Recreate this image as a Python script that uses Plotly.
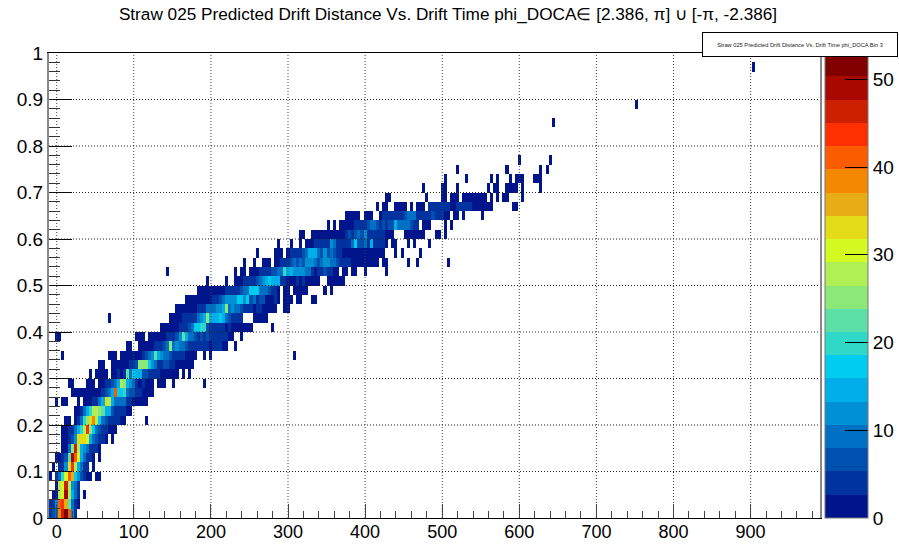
import plotly.graph_objects as go

# Axis binning of the histogram
x_low, x_bin, x_nbins = -10, 4, 250
y_low, y_bin, y_nbins = 0, 0.02, 50
z_max = 53

x_ticks = [0, 100, 200, 300, 400, 500, 600, 700, 800, 900]
x_labels = ["0", "100", "200", "300", "400", "500", "600", "700", "800", "900"]
y_ticks = [0, 0.1, 0.2, 0.3, 0.4, 0.5, 0.6, 0.7, 0.8, 0.9, 1]
y_labels = ["0", "0.1", "0.2", "0.3", "0.4", "0.5", "0.6", "0.7", "0.8", "0.9", "1"]
z_ticks = [0, 10, 20, 30, 40, 50]

palette = ["#00148c", "#0033a0", "#0050b0", "#0070c4", "#0090d4", "#00aeea", "#00ccf0",
           "#30d8c8", "#5ce0a8", "#8ce878", "#b0f055", "#d4fa22", "#e4dc18", "#e8ac14",
           "#f48800", "#fc5c00", "#ff3000", "#cc2000", "#a80800", "#800000"]

title_text = "Straw 025 Predicted Drift Distance Vs. Drift Time phi_DOCA\u2208 [2.386, \u03c0] \u222a [-\u03c0, -2.386]"
box_text = "Straw 025 Predicted Drift Distance Vs. Drift Time phi_DOCA Bin 3"

# Counts per y row: (first x bin, [counts in consecutive x bins])
r00 = [(0, [4, 7, 9, 38, 46, 52, 40, 12, 3])]
r01 = [(0, [3, 5, 12, 40, 45, 36, 22, 10, 5, 2])]
r02 = [(1, [2, 2, 28, 31, 50, 28, 14, 8, 3]), (11, [1])]
r03 = [(2, [2, 27, 30, 47, 27, 12, 8, 3])]
r04 = [(0, [1]), (2, [3, 10, 20, 30, 42, 35, 18, 12, 6, 3, 2, 1]), (15, [1, 1])]
r05 = [(1, [1]), (3, [3, 4, 13, 32, 44, 28, 15, 8, 3, 3]), (14, [1])]
r06 = [(2, [1, 2, 3, 6, 22, 50, 40, 30, 15, 9, 4, 3, 2]), (16, [1])]
r07 = [(4, [1, 2, 8, 25, 47, 28, 15, 12, 8, 5, 3, 3, 1])]
r08 = [(4, [1, 1, 3, 6, 12, 32, 34, 33, 30, 14, 8, 7, 5, 3, 1]), (20, [1])]
r09 = [(4, [1, 2, 3, 5, 10, 14, 20, 28, 44, 25, 16, 8, 6, 3, 4, 2, 1, 1])]
r10 = [(5, [2, 2]), (8, [1, 3, 8, 20, 25, 32, 38, 28, 16, 8, 6, 4, 4, 4, 3, 2, 2]), (31, [1])]
r11 = [(8, [1, 1, 3, 8, 14, 20, 28, 28, 26, 23, 14, 15, 7, 4, 5, 4, 3, 2, 1])]
r12 = [(2, [1]), (4, [1, 1]), (9, [1]), (11, [1, 2, 2, 3, 4, 8, 14, 32, 28, 15, 9, 9, 9, 9, 3, 3, 2, 2, 1, 1, 1])]
r13 = [(7, [1, 1, 1, 1, 1, 1, 1, 2, 2, 2, 3, 6, 10, 15, 40, 18, 16, 20, 10, 6, 6, 4, 3, 2, 2, 1, 1])]
r14 = [(6, [1, 1]), (12, [1, 1, 1]), (16, [1, 1, 3, 4, 6, 10, 14, 28, 25, 14, 12, 8, 4, 2, 3, 2, 2, 2]),
       (35, [1, 1, 1]), (40, [1]), (50, [1])]
r15 = [(13, [1]), (15, [1, 1, 1, 1]),
       (20, [2, 1, 3, 2, 5, 22, 10, 18, 14, 14, 6, 6, 5, 4, 3, 3, 2, 2, 2, 1, 1, 1]), (43, [1]), (45, [1])]
r16 = [(16, [1, 1]), (20, [1, 1, 1, 1, 2, 2, 3, 5, 6, 24, 24, 25, 16, 12, 10, 5, 5, 6, 6, 4, 3, 2, 2, 1, 1, 1, 1])]
r17 = [(4, [1]), (19, [1, 1, 1]),
       (23, [1, 1, 1, 2, 2, 2, 2, 4, 6, 10, 13, 22, 14, 12, 10, 9, 7, 4, 3, 3, 3, 2, 2, 1, 1]),
       (50, [1]), (52, [1]), (79, [1])]
r18 = [(25, [1, 1]),
       (29, [1, 2, 1, 2, 2, 3, 4, 5, 6, 8, 24, 10, 11, 9, 9, 7, 5, 5, 4, 5, 4, 5, 3, 2, 3, 3, 3, 2, 1]), (60, [1])]
r19 = [(2, [1, 1]), (28, [1, 1, 1]),
       (32, [1, 1, 1, 2, 2, 2, 3, 3, 4, 7, 12, 22, 14, 8, 10, 7, 5, 6, 5, 6, 5, 4, 3, 3, 3, 3, 2, 1]), (62, [1])]
r20 = [(36, [1, 1, 1, 2, 2, 2, 3, 3, 4, 6, 8, 16, 16, 19, 20, 7, 5, 5, 4, 3, 3, 2, 3, 2, 2, 2, 2, 2, 2, 1]), (72, [1])]
r21 = [(19, [1]), (39, [1, 1, 1, 2, 3, 3, 4, 5, 5, 8, 12, 14, 26, 15, 15, 15, 17, 15, 8, 6, 5, 4, 4, 3]),
       (66, [1, 1, 1, 1, 1])]
r22 = [(41, [1, 1, 1, 1, 2, 2, 2, 3, 3, 4, 8, 10, 10, 12, 12, 14, 25, 9, 13, 9, 9, 7, 5, 3, 3, 2, 3, 3, 2, 2, 1, 1, 1]),
       (76, [1, 1])]
r23 = [(44, [1, 1, 1, 1, 1, 1, 1, 1, 2, 4, 5, 7, 9, 11, 11, 11, 12, 16, 18, 11, 18, 6, 9, 5, 7, 7, 2, 2, 1, 3, 1]),
       (76, [1, 1, 1]), (80, [1, 1]), (85, [1, 1])]
r24 = [(48, [1, 1, 1, 1, 2, 2, 2, 2, 2, 3, 3, 4, 4, 5, 6, 8, 8, 16, 17, 17, 8, 8, 10, 6, 4, 3, 1]),
       (76, [1, 2]), (79, [1, 1, 1, 1, 1]), (89, [1]), (91, [1])]
r25 = [(51, [1]), (57, [1]),
       (60, [1, 2, 2, 3, 4, 5, 5, 7, 9, 12, 14, 17, 15, 15, 14, 3, 4, 2, 2, 2, 3, 2, 3, 2, 2, 2, 1, 1]),
       (90, [1, 1, 1, 1, 1, 1])]
r26 = [(38, [1]), (60, [1]), (62, [1, 1]),
       (65, [1, 2, 2, 3, 3, 4, 4, 6, 7, 8, 8, 20, 14, 14, 13, 13, 12, 12, 9, 8, 3, 2, 5, 5, 7, 4, 3, 2, 1]),
       (95, [1, 1]), (98, [1, 1]), (102, [1]), (109, [1])]
r27 = [(63, [1]), (66, [1]), (69, [1, 1, 1]),
       (73, [1, 2, 3, 4, 5, 7, 8, 7, 9, 7, 12, 12, 13, 8, 6, 10, 12, 13, 9, 8, 6, 4, 3, 3, 3, 1, 1, 1, 2, 1, 1, 1, 1, 1]),
       (108, [1, 1]), (116, [1]), (119, [1]), (129, [1])]
r28 = [(67, [1]), (73, [1, 1, 1]),
       (77, [1, 3, 4, 5, 5, 7, 9, 14, 15, 15, 10, 7, 12, 7, 9, 6, 5, 4, 2, 2, 2, 2, 2, 2, 2, 2, 2, 2, 2, 2, 2, 1]),
       (112, [1]), (114, [1]), (120, [1])]
r29 = [(74, [1]), (78, [1]), (81, [1]),
       (83, [1, 1, 2, 3, 3, 3, 3, 5, 13, 8, 3, 3, 4, 3, 5, 8, 18, 6, 7, 9, 5, 14, 3, 4, 4, 3, 1]),
       (111, [1, 1]), (116, [1]), (118, [1]), (123, [1])]
r30 = [(81, [1, 1]),
       (85, [1, 1, 1, 1, 1, 1, 2, 2, 2, 2, 2, 3, 6, 5, 6, 8, 7, 13, 5, 4, 4, 4, 4, 3, 2, 2, 2]),
       (115, [1, 1, 1, 1, 1, 1, 1]), (125, [1, 1]), (128, [1])]
r31 = [(90, [1]), (92, [1]),
       (94, [1, 1, 1, 2, 2, 3, 3, 4, 3, 6, 9, 9, 7, 5, 6, 5, 6, 7, 14, 9, 9, 9, 8, 6, 5, 3]),
       (121, [1, 1, 1]), (128, [1]), (130, [1])]
r32 = [(96, [1, 1, 1, 1, 1]), (102, [1, 1, 1]),
       (107, [2, 3, 3, 3, 3, 3, 5, 4, 6, 8, 9, 9, 5, 3, 3, 3, 3, 6, 4, 3, 3, 2, 2]),
       (131, [1, 1]), (134, [1]), (140, [1])]
r33 = [(106, [1]), (108, [1, 1]), (112, [1, 1, 1, 1]), (117, [1]), (119, [1, 1, 1]),
       (123, [3, 3, 4, 4, 5, 3, 3, 2, 1, 3, 3, 4, 3, 3, 1, 2, 2, 1, 1, 1, 1]), (150, [1, 1])]
r34 = [(109, [1, 1]), (122, [1]), (127, [1, 2]), (130, [1, 1, 2]),
       (134, [1, 2, 2, 1, 1, 1, 1, 1]), (143, [1]), (145, [1]), (147, [1, 1]), (153, [1])]
r35 = [(121, [1]), (127, [1, 1]), (132, [1]), (142, [1]), (144, [1, 1]),
       (148, [1, 1, 1, 1]), (153, [1]), (159, [1])]
r36 = [(128, [1]), (135, [1]), (143, [1]), (145, [1]), (149, [1]), (151, [2, 2, 2]), (157, [1, 1, 1])]
r37 = [(132, [1]), (148, [1]), (159, [1]), (161, [1])]
r38 = [(152, [1]), (162, [1])]
r42 = [(163, [1])]
r44 = [(190, [1])]
r48 = [(228, [1])]

rows = {0: r00, 1: r01, 2: r02, 3: r03, 4: r04, 5: r05, 6: r06, 7: r07, 8: r08, 9: r09,
        10: r10, 11: r11, 12: r12, 13: r13, 14: r14, 15: r15, 16: r16, 17: r17, 18: r18, 19: r19,
        20: r20, 21: r21, 22: r22, 23: r23, 24: r24, 25: r25, 26: r26, 27: r27, 28: r28, 29: r29,
        30: r30, 31: r31, 32: r32, 33: r33, 34: r34, 35: r35, 36: r36, 37: r37, 38: r38,
        42: r42, 44: r44, 48: r48}

z = [[None] * x_nbins for _ in range(y_nbins)]
for row_index, segments in rows.items():
    for first, counts in segments:
        for offset, count in enumerate(counts):
            z[row_index][first + offset] = count

x_centers = [x_low + x_bin * (i + 0.5) for i in range(x_nbins)]
y_centers = [y_low + y_bin * (i + 0.5) for i in range(y_nbins)]

n = len(palette)
colorscale = []
for i, c in enumerate(palette):
    colorscale.append([i / n, c])
    colorscale.append([(i + 1) / n, c])

font_family = "Liberation Sans, Arial, Helvetica, sans-serif"

fig = go.Figure(go.Heatmap(
    x=x_centers, y=y_centers, z=z, zmin=0, zmax=z_max, colorscale=colorscale,
    hoverongaps=False, zsmooth=False,
    colorbar=dict(
        thicknessmode="pixels", thickness=43, lenmode="fraction", len=1,
        x=1.0065, xanchor="left", xpad=0, y=0, yanchor="bottom", ypad=0,
        tickmode="array", tickvals=z_ticks, ticktext=[str(v) for v in z_ticks],
        ticks="inside", ticklen=23, tickwidth=1, tickcolor="black",
        outlinecolor="#777777", outlinewidth=1, borderwidth=0,
        tickfont=dict(family=font_family, size=19, color="black"),
    ),
))

shapes = []
for v in x_ticks:
    shapes.append(dict(type="line", xref="x", yref="paper", x0=v, x1=v, y0=0, y1=1, layer="above",
                       line=dict(color="#444444", width=1, dash="1px,2px")))
for v in y_ticks[1:-1]:
    shapes.append(dict(type="line", xref="paper", yref="y", x0=0, x1=1, y0=v, y1=v, layer="above",
                       line=dict(color="#222222", width=1, dash="1px,2px")))

fig.update_layout(
    width=899, height=548, autosize=False,
    margin=dict(l=49, r=79, t=53, b=30, pad=0, autoexpand=False),
    paper_bgcolor="white", plot_bgcolor="white",
    font=dict(family=font_family, color="black"),
    title=dict(text=title_text, x=448 / 899, xanchor="center", xref="container",
               y=1 - 14 / 548, yanchor="middle", font=dict(family=font_family, size=17.2, color="black")),
    xaxis=dict(
        range=[x_low, x_low + x_bin * x_nbins], showgrid=False, zeroline=False,
        tickmode="array", tickvals=x_ticks, ticktext=x_labels,
        ticks="inside", ticklen=14, tickwidth=1, tickcolor="#444444",
        ticklabelstandoff=-3,
        minor=dict(dtick=20, tick0=0, ticks="inside", ticklen=7, tickwidth=1, tickcolor="#444444", showgrid=False),
        showline=True, linecolor="black", linewidth=1, mirror=True,
        tickfont=dict(family=font_family, size=18, color="black"),
    ),
    yaxis=dict(
        range=[0, 1], showgrid=False, zeroline=False,
        tickmode="array", tickvals=y_ticks, ticktext=y_labels,
        ticks="inside", ticklen=23, tickwidth=1, tickcolor="black",
        minor=dict(dtick=0.02, tick0=0, ticks="inside", ticklen=11, tickwidth=1, tickcolor="#333333", showgrid=False),
        showline=True, linecolor="#888888", linewidth=2, mirror=True,
        tickfont=dict(family=font_family, size=19, color="black"),
    ),
    shapes=shapes,
    annotations=[dict(
        text=box_text, xref="paper", yref="paper", x=(800 - 49) / 771, y=(518 - 44.5) / 465,
        xanchor="center", yanchor="middle", showarrow=False, width=192, height=21,
        bgcolor="white", bordercolor="black", borderwidth=1, align="center", valign="middle",
        font=dict(family=font_family, size=5.7, color="#222222"),
    )],
)

# Remove the page's default 8 px body margin so the figure fills the 899x548 window
fig.write_html("out.html", config={"displayModeBar": False}, post_script="document.body.style.margin='0';")
